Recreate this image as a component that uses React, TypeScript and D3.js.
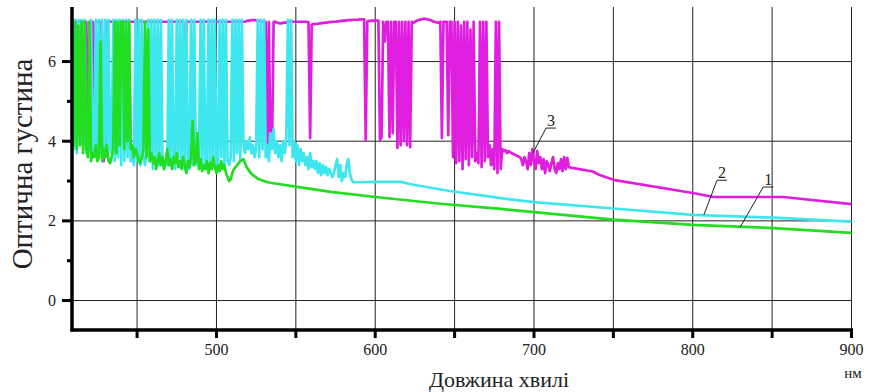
import * as d3 from "d3";

const W = 869;
const H = 392;

// noisy parts of the spectra are read every 1 nm, the smooth tails at a few points
const greenStart = 409;
const greenNoisy = [
  7.0, 3.9, 7.0, 3.8, 6.9, 3.9, 7.0, 3.7, 7.0, 3.8,
  3.6, 7.0, 3.5, 3.7, 3.6, 3.9, 3.5, 3.6, 6.5, 3.5,
  3.8, 3.6, 3.9, 3.5, 3.45, 3.6, 3.8, 7.0, 3.7, 7.0,
  3.9, 7.0, 7.0, 3.8, 7.0, 4.0, 7.0, 3.8, 3.9, 3.6,
  3.8, 3.7, 3.5, 3.45, 3.6, 3.8, 7.0, 3.6, 6.8, 3.5,
  3.7, 3.45, 3.6, 3.3, 3.5, 3.7, 3.4, 3.6, 3.3, 3.5,
  3.8, 3.4, 3.55, 3.3, 3.6, 3.45, 3.7, 3.35, 3.5, 3.3,
  3.6, 3.4, 3.2, 3.5, 3.35, 3.6, 4.5, 3.4, 3.5, 4.2,
  3.3, 3.55, 3.25, 3.4, 3.3, 3.5, 3.2, 3.45, 3.3, 3.6,
  3.35, 3.2, 3.4, 3.25, 3.5, 3.3, 3.4, 3.2, 3.1, 3.0,
  3.05, 3.2, 3.3, 3.35, 3.4, 3.45, 3.5, 3.52, 3.55,
];
const greenTailNm = [519, 522, 526, 532, 540, 553, 572, 600, 641, 679, 700, 750, 800, 851, 900];
const greenTailVal = [3.35, 3.18, 3.06, 2.97, 2.92, 2.84, 2.73, 2.6, 2.43, 2.3, 2.22, 2.03, 1.9, 1.82, 1.7];

const cyanStart = 409;
const cyanNoisy = [
  7.05, 3.8, 7.05, 3.7, 7.05, 3.9, 7.05, 3.8, 7.05, 3.7,
  4.0, 3.8, 7.05, 3.7, 3.9, 7.05, 3.6, 7.05, 3.7, 7.05,
  3.6, 7.05, 3.7, 7.05, 3.8, 3.7, 7.05, 3.5, 7.05, 3.6,
  7.05, 3.4, 7.05, 3.5, 7.05, 3.6, 7.05, 3.5, 3.7, 3.4,
  7.05, 3.5, 7.05, 3.4, 7.05, 3.6, 3.4, 3.7, 7.05, 3.5,
  7.05, 3.3, 7.05, 3.5, 7.05, 3.4, 7.05, 3.6, 3.3, 3.5,
  3.4, 7.05, 3.4, 7.05, 3.5, 3.3, 7.05, 3.6, 7.05, 3.4,
  7.05, 3.3, 7.05, 3.5, 3.3, 7.05, 3.4, 7.05, 3.5, 3.4,
  3.6, 7.05, 3.3, 7.05, 3.4, 3.5, 7.05, 3.3, 7.05, 3.4,
  7.05, 3.5, 3.3, 7.05, 3.6, 7.05, 3.4, 7.05, 3.5, 3.4,
  3.6, 7.05, 3.5, 7.05, 3.7, 7.05, 3.5, 7.05, 3.9, 3.7,
  4.0, 3.8, 4.1, 3.7, 3.9, 3.6, 3.8, 7.05, 3.6, 7.05,
  3.8, 7.05, 3.6, 3.9, 3.5, 4.2, 3.8, 4.3, 3.7, 4.0,
  3.6, 3.9, 3.5, 4.0, 3.7, 4.1, 7.05, 3.9, 7.05, 3.6,
  4.0, 3.5, 3.9, 3.4, 3.8, 3.5, 3.7, 3.4, 3.6, 3.3,
  3.7, 3.35, 3.5, 3.3, 3.5, 3.2, 3.45, 3.15, 3.4, 3.2,
  3.35, 3.15, 3.3, 3.2, 3.1, 3.2, 3.4, 3.55, 3.1, 3.4,
  3.0, 3.2, 3.1, 3.4, 3.55, 3.2, 3.05, 2.97,
];
const cyanTailNm = [590, 601, 616, 625, 647, 679, 700, 750, 800, 851, 900];
const cyanTailVal = [2.97, 2.98, 2.98, 2.9, 2.75, 2.57, 2.47, 2.31, 2.15, 2.08, 1.98];

const magentaStart = 409;
const magentaNoisy = [
  7.0, 7.0, 4.0, 7.0, 7.0, 7.0, 7.0, 7.0, 7.0, 7.0,
  4.0, 7.0, 3.95, 7.0, 4.0, 7.0, 7.0, 7.0, 7.0, 5.0,
  3.5, 4.2, 7.0, 7.0, 7.0, 7.0, 7.0, 7.0, 7.0, 7.0,
  7.0, 7.0, 7.0, 7.0, 7.0, 7.0, 7.0, 7.0, 7.0, 7.0,
  7.0, 7.0, 7.0, 7.0, 7.0, 7.0, 7.0, 7.0, 7.0, 7.0,
  7.0, 7.0, 7.0, 7.0, 7.0, 7.0, 7.0, 7.0, 7.0, 7.0,
  7.0, 7.0, 7.0, 7.0, 7.0, 7.0, 7.0, 7.0, 7.0, 7.0,
  7.0, 4.0, 7.0, 7.0, 7.0, 7.0, 7.0, 7.0, 7.0, 7.0,
  7.0, 7.0, 7.0, 7.0, 7.0, 7.0, 7.0, 7.0, 7.0, 7.0,
  7.0, 7.0, 7.0, 7.0, 7.0, 7.0, 7.0, 7.0, 7.0, 7.0,
  7.0, 7.0, 7.0, 7.0, 7.0, 7.0, 7.0, 7.0, 7.0, 7.0,
  7.02, 7.03, 7.03, 7.04, 7.04, 7.04, 7.03, 7.03, 7.02, 7.02,
  7.0, 7.0, 7.0, 3.8, 7.0, 3.85, 3.9, 7.0, 7.0, 6.98,
  6.97, 6.96, 6.96, 6.97, 6.98, 6.98, 6.99, 7.0, 7.0, 7.0,
  7.0, 7.0, 7.0, 7.0, 7.0, 7.0, 7.0, 7.0, 7.0, 6.98,
  4.08, 6.93, 6.94, 6.94, 6.95, 6.95, 6.96, 6.96, 6.97, 6.97,
  6.98, 6.98, 6.99, 6.99, 7.0, 7.0, 7.0, 7.01, 7.01, 7.02,
  7.02, 7.03, 7.03, 7.03, 7.04, 7.04, 7.04, 7.05, 7.05, 7.05,
  7.05, 7.06, 7.06, 7.06, 7.06, 4.03, 7.0, 7.02, 7.02, 7.03,
  7.03, 7.03, 7.03, 7.03, 4.03, 4.1, 7.0, 6.5, 7.0, 7.0,
  4.1, 7.0, 4.2, 7.0, 7.0, 3.83, 7.0, 3.9, 7.0, 4.0,
  7.0, 3.9, 7.0, 3.85, 7.0, 6.97, 7.0, 7.02, 7.04, 7.05,
  7.06, 7.07, 7.07, 7.07, 7.06, 7.05, 7.04, 7.02, 7.0, 6.99,
  6.98, 6.97, 7.0, 4.08, 7.0, 7.0, 7.0, 4.15, 7.0, 7.0,
  3.6, 7.0, 3.45, 7.0, 3.5, 6.9, 3.3, 7.0, 3.55, 7.0,
  3.4, 6.8, 3.6, 7.0, 3.5, 3.7, 3.45, 7.0, 3.35, 7.0,
  3.5, 7.0, 3.6, 3.9, 3.4, 3.8, 3.3, 7.0, 3.2, 7.0,
  3.3, 3.8, 3.75, 3.78, 3.7, 3.75, 3.72, 3.7, 3.68, 3.66,
  3.64, 3.62, 3.6, 3.55, 3.4, 3.6, 3.5, 3.3, 3.7, 3.4,
  3.8, 3.5, 3.3, 3.75, 3.45, 3.6, 3.3, 3.55, 3.2, 3.5,
  3.4, 3.25, 3.45, 3.6, 3.3, 3.2, 3.45, 3.3, 3.55, 3.25,
  3.6, 3.3, 3.58, 3.35,
];
const magentaTailNm = [724, 737, 741, 750, 800, 813, 857, 900];
const magentaTailVal = [3.33, 3.24, 3.16, 3.03, 2.7, 2.6, 2.6, 2.42];

const xGridTicks = [450, 500, 550, 600, 650, 700, 750, 800, 850, 900];
const xLabelTicks = [500, 600, 700, 800, 900];
const yMajorTicks = [0, 2, 4, 6];
const yMinorTicks = [1, 3, 5];

// curve labels: text, point on the curve, start of the leader under the text
const curveLabels = [
  { text: "3", nm: 699.4, val: 3.71, lnm: 707.6, lval: 4.33 },
  { text: "2", nm: 807, val: 2.15, lnm: 815.3, lval: 3.02 },
  { text: "1", nm: 830, val: 1.85, lnm: 844.4, lval: 2.85 },
];

type Pt = [number, number];

function buildSeries(start: number, noisy: number[], tailNm: number[], tailVal: number[]): Pt[] {
  const head: Pt[] = noisy.map((v, i) => [start + i, v]);
  const tail: Pt[] = tailNm.map((n, i) => [n, tailVal[i]]);
  return head.concat(tail);
}

const series = [
  { key: "3", color: "#e01ee0", data: buildSeries(magentaStart, magentaNoisy, magentaTailNm, magentaTailVal) },
  { key: "2", color: "#3ee6ee", data: buildSeries(cyanStart, cyanNoisy, cyanTailNm, cyanTailVal) },
  { key: "1", color: "#22dd22", data: buildSeries(greenStart, greenNoisy, greenTailNm, greenTailVal) },
];

export default function App() {
  const left = 72;
  const right = 851.5;
  const top = 7;
  const bottom = 330;

  const x = d3.scaleLinear().domain([409, 900]).range([left, right]);
  const y = d3.scaleLinear().domain([-0.74, 7.37]).range([bottom, top]);

  const line = d3
    .line<Pt>()
    .x((d) => x(d[0]))
    .y((d) => y(d[1]));

  const serif = "'Liberation Serif', 'Times New Roman', serif";

  return (
    <svg
      width={W}
      height={H}
      viewBox={`0 0 ${W} ${H}`}
      style={{ position: "absolute", left: 0, top: 0, background: "#fff" }}
      fontFamily={serif}
    >
      {/* grid */}
      {xGridTicks.map((t) => (
        <line key={"gx" + t} x1={x(t)} x2={x(t)} y1={top} y2={bottom} stroke="#222" strokeWidth={1} />
      ))}
      {yMajorTicks.map((t) => (
        <line key={"gy" + t} x1={left} x2={right} y1={y(t)} y2={y(t)} stroke="#222" strokeWidth={1} />
      ))}

      {/* spectra */}
      {series.map((s) => (
        <path
          key={s.key}
          d={line(s.data) ?? ""}
          fill="none"
          stroke={s.color}
          strokeWidth={2.7}
          strokeLinejoin="round"
        />
      ))}

      {/* axes */}
      <line x1={left} x2={left} y1={top} y2={bottom + 1.5} stroke="#000" strokeWidth={3.5} />
      <line x1={left - 1.5} x2={right + 1.5} y1={bottom} y2={bottom} stroke="#000" strokeWidth={3.5} />
      {yMajorTicks.map((t) => (
        <g key={"yt" + t}>
          <line x1={left - 10} x2={left} y1={y(t)} y2={y(t)} stroke="#000" strokeWidth={3} />
          <text x={left - 16} y={y(t)} dy="0.35em" textAnchor="end" fontSize={16} fill="#222">
            {t}
          </text>
        </g>
      ))}
      {yMinorTicks.map((t) => (
        <line key={"ym" + t} x1={left - 5} x2={left} y1={y(t)} y2={y(t)} stroke="#000" strokeWidth={3} />
      ))}
      {xGridTicks.map((t) => (
        <line key={"xt" + t} x1={x(t)} x2={x(t)} y1={bottom} y2={bottom + 8} stroke="#000" strokeWidth={3} />
      ))}
      {xLabelTicks.map((t) => (
        <text key={"xl" + t} x={x(t)} y={355} textAnchor="middle" fontSize={16} fill="#222">
          {t}
        </text>
      ))}

      {/* curve numbers */}
      {curveLabels.map((c) => (
        <g key={"cl" + c.text}>
          <line x1={x(c.nm)} y1={y(c.val)} x2={x(c.lnm)} y2={y(c.lval)} stroke="#222" strokeWidth={1} />
          <line x1={x(c.lnm)} y1={y(c.lval)} x2={x(c.lnm) + 10} y2={y(c.lval)} stroke="#222" strokeWidth={1} />
          <text x={x(c.lnm) + 5} y={y(c.lval) - 2} textAnchor="middle" fontSize={16} fill="#222">
            {c.text}
          </text>
        </g>
      ))}

      {/* axis titles */}
      <text x={499} y={387} textAnchor="middle" fontSize={22} fill="#222">
        Довжина хвилі
      </text>
      <text x={853} y={378} textAnchor="middle" fontSize={15} fill="#222">
        нм
      </text>
      <text
        transform={`translate(32,164) rotate(-90)`}
        textAnchor="middle"
        fontSize={29}
        fill="#222"
      >
        Оптична густина
      </text>
    </svg>
  );
}
